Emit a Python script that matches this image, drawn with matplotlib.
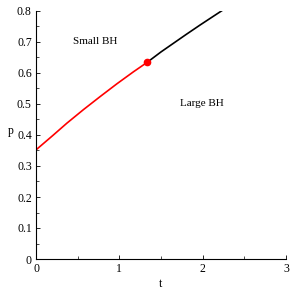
import numpy as np
import matplotlib
matplotlib.use("Agg")
import matplotlib.pyplot as plt
from matplotlib.ticker import MultipleLocator

# small BH branch (red) and large BH branch (black)
t_small = [0.0, 0.2, 0.37, 0.57, 0.77, 0.97, 1.17, 1.332]
p_small = [0.352, 0.398, 0.438, 0.482, 0.524, 0.565, 0.604, 0.634]
t_large = [1.332, 1.5, 1.65, 1.8, 1.97, 2.1, 2.236]
p_large = [0.634, 0.668, 0.696, 0.724, 0.755, 0.778, 0.802]
t_crit = [1.332]
p_crit = [0.634]

x_ticks = [0, 1, 2, 3]
x_labels = ["0", "1", "2", "3"]
y_ticks = [0, 0.1, 0.2, 0.3, 0.4, 0.5, 0.6, 0.7, 0.8]
y_labels = ["0", "0.1", "0.2", "0.3", "0.4", "0.5", "0.6", "0.7", "0.8"]

plt.rcParams['font.family'] = ['Liberation Serif', 'DejaVu Serif']

fig = plt.figure(figsize=(2.93, 2.93), dpi=100)
ax = fig.add_axes([36 / 293, 34 / 293, 250 / 293, 248 / 293])

ax.plot(t_small, p_small, color="#ff0000", lw=1.2)
ax.plot(t_large, p_large, color="black", lw=1.2)
ax.plot(t_crit, p_crit, "o", color="#ff0000", ms=4.5)

ax.text(0.71, 0.70, "Small BH", ha="center", va="center", fontsize=8)
ax.text(1.99, 0.50, "Large BH", ha="center", va="center", fontsize=8)

ax.set_xlim(0, 3)
ax.set_ylim(0, 0.8)
ax.set_xticks(x_ticks)
ax.set_xticklabels(x_labels)
ax.set_yticks(y_ticks)
ax.set_yticklabels(y_labels)
ax.xaxis.set_minor_locator(MultipleLocator(0.5))
ax.yaxis.set_minor_locator(MultipleLocator(0.05))
ax.tick_params(labelsize=8.5, length=3, width=0.6, direction="in", pad=3)
ax.tick_params(which="minor", length=2, width=0.5, direction="in")

for s in ["top", "right"]:
    ax.spines[s].set_visible(False)
for s in ["left", "bottom"]:
    ax.spines[s].set_linewidth(0.8)

ax.set_xlabel("t", fontsize=8.5, labelpad=2)
ax.set_ylabel("p", fontsize=8.5, rotation=0, labelpad=6)
ax.yaxis.set_label_coords(-0.1, 0.49)

fig.savefig("out.png", dpi=100)
